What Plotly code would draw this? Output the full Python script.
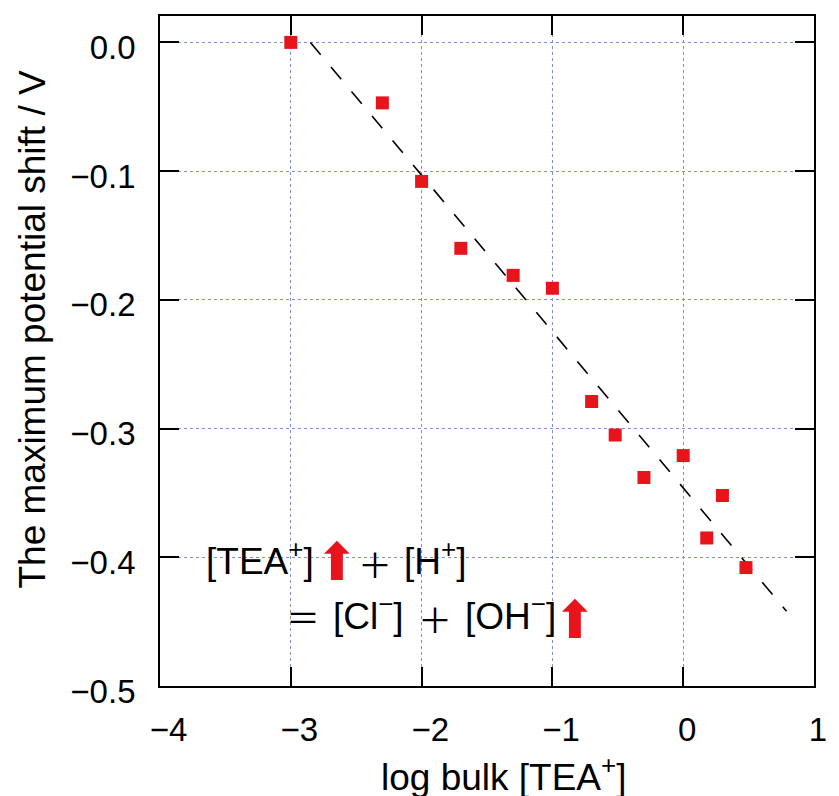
import plotly.graph_objects as go

# data
log_tea = [-3.0, -2.3, -2.0, -1.7, -1.3, -1.0, -0.7, -0.52, -0.3, 0.0, 0.18, 0.3, 0.48]
shift_v = [0.0, -0.047, -0.108, -0.160, -0.181, -0.191, -0.279, -0.305, -0.338, -0.321, -0.385, -0.352, -0.408]
fit_x = [-2.85, 0.79]
fit_y = [0.0, -0.442]
x_ticks = [-4, -3, -2, -1, 0, 1]
y_ticks = [0.0, -0.1, -0.2, -0.3, -0.4, -0.5]

FONT = "Liberation Sans, Arial, Helvetica, sans-serif"
CJK = "Noto Sans CJK JP"
ARW = "DejaVu Sans"
RED = "#e8141c"
W, H = 839, 796
L, R, T, B = 160, 12, 16, 110


def px(x):
    return (x - L) / (W - L - R)


def py(y):
    return (H - B - y) / (H - T - B)


fig = go.Figure()
fig.add_trace(go.Scatter(x=fit_x, y=fit_y, mode="lines",
                         line=dict(color="black", width=1.6, dash="16px,16px"),
                         showlegend=False, hoverinfo="skip"))
fig.add_trace(go.Scatter(x=log_tea, y=shift_v, mode="markers",
                         marker=dict(symbol="square", size=13, color=RED, line=dict(width=0)),
                         showlegend=False))

# white background behind the equation
fig.add_shape(type="rect", xref="paper", yref="paper", x0=px(190), x1=px(622), y0=py(644), y1=py(535),
              fillcolor="white", line=dict(width=0), layer="between")


def txt(x, y, s, xanchor="left", font=FONT, size=37, color="black"):
    fig.add_annotation(x=px(x), y=py(y), xref="paper", yref="paper", xanchor=xanchor,
                       yanchor="middle", showarrow=False, text=s, borderpad=0,
                       font=dict(family=font, size=size, color=color))


# line 1: [TEA+]↑ + [H+]
txt(206, 558, "[TEA<sup>+</sup>]")
txt(340.5, 562, "⬆", xanchor="center", font=ARW, size=52, color=RED)
txt(379, 563, "＋", xanchor="center", font=CJK, size=34)
txt(408, 558, "[H<sup>+</sup>]")
# line 2: = [Cl-] + [OH-]↑
txt(306, 616, "＝", xanchor="center", font=CJK, size=34)
txt(335, 613, "[Cl<sup>−</sup>]")
txt(440, 618, "＋", xanchor="center", font=CJK, size=34)
txt(470, 613, "[OH<sup>−</sup>]")
txt(583, 620, "⬆", xanchor="center", font=ARW, size=52, color=RED)

# axis titles
fig.add_annotation(x=px(510), y=py(774), xref="paper", yref="paper", xanchor="center",
                   yanchor="middle", showarrow=False, text="log bulk [TEA<sup>+</sup>]",
                   font=dict(family=FONT, size=37, color="black"))
fig.add_annotation(x=px(29), y=py(329), xref="paper", yref="paper", xanchor="center",
                   yanchor="middle", showarrow=False, textangle=-90,
                   text="The maximum potential shift / V",
                   font=dict(family=FONT, size=37, color="black"))

axis_common = dict(showline=True, linecolor="black", linewidth=1.8, mirror="ticks",
                   ticks="inside", ticklen=19, tickwidth=1.6, tickcolor="black",
                   showgrid=True, gridcolor="#7f8fd2", griddash="dot", gridwidth=1,
                   zeroline=False, ticklabeloverflow="allow",
                   tickfont=dict(family=FONT, size=33, color="black"))

fig.update_xaxes(range=[-4, 1], tickvals=x_ticks,
                 ticktext=[("\u00a0−%d" % -v) if v < 0 else str(v) for v in x_ticks],
                 ticklabelstandoff=13, ticklabelshift=4, **axis_common)
fig.update_yaxes(range=[-0.5, 0.0205], tickvals=y_ticks,
                 ticktext=[("−%.1f" % -v) if v < 0 else "%.1f" % v for v in y_ticks],
                 ticklabelstandoff=16, ticklabelshift=5, **axis_common)

fig.update_layout(width=W, height=H, margin=dict(l=L, r=R, t=T, b=B),
                  plot_bgcolor="white", paper_bgcolor="white")

fig.write_html("out.html")
